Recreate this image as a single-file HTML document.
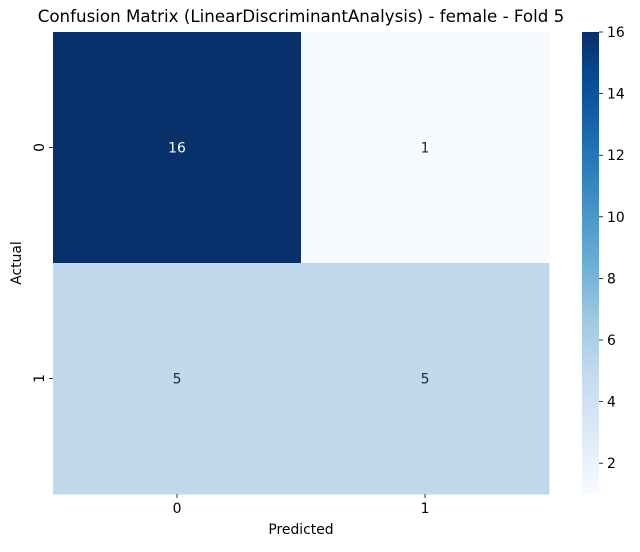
<!DOCTYPE html>
<html><head><meta charset="utf-8">
<style>
body{margin:0;background:#fff;}
svg text{font-family:"DejaVu Sans","Liberation Sans",sans-serif;}
</style></head>
<body>
<svg id="chart" width="640" height="547" xmlns="http://www.w3.org/2000/svg">
<defs>
<linearGradient id="blues" x1="0" y1="1" x2="0" y2="0">
<stop offset="0" stop-color="#f7fbff"/><stop offset="0.125" stop-color="#deebf7"/>
<stop offset="0.25" stop-color="#c6dbef"/><stop offset="0.375" stop-color="#9ecae1"/>
<stop offset="0.5" stop-color="#6baed6"/><stop offset="0.625" stop-color="#4292c6"/>
<stop offset="0.75" stop-color="#2171b5"/><stop offset="0.875" stop-color="#08519c"/>
<stop offset="1" stop-color="#08306b"/>
</linearGradient>
</defs>
<text x="301" y="22" text-anchor="middle" font-size="16.7" fill="#000">Confusion Matrix (LinearDiscriminantAnalysis) - female - Fold 5</text>
<g id="cells"></g>
<g id="axes"></g>
<rect x="582" y="32" width="17" height="462" fill="url(#blues)"/>
<g id="cbticks"></g>
<text x="301" y="534" text-anchor="middle" font-size="13.9">Predicted</text>
<text x="21" y="263" text-anchor="middle" font-size="13.9" transform="rotate(-90 21 263)">Actual</text>
</svg>
<script>
const labels = ["0","1"];
const matrix = [[16,1],[5,5]];
const cbTicks = [2,4,6,8,10,12,14,16];
const vmin = 1, vmax = 16;

const NS="http://www.w3.org/2000/svg";
const X0=53, X1=549, Y0=32, Y1=494, CBX=582, CBW=17;
const cw=(X1-X0)/labels.length, ch=(Y1-Y0)/labels.length;
const stops=["#f7fbff","#deebf7","#c6dbef","#9ecae1","#6baed6","#4292c6","#2171b5","#08519c","#08306b"];
function hex(c){return [1,3,5].map(i=>parseInt(c.substr(i,2),16));}
function color(v){
  let t=Math.max(0,Math.min(1,(v-vmin)/(vmax-vmin)))*(stops.length-1);
  let i=Math.min(Math.floor(t),stops.length-2), f=t-i;
  const a=hex(stops[i]), b=hex(stops[i+1]);
  const c=a.map((x,k)=>Math.round(x+(b[k]-x)*f));
  return {css:`rgb(${c[0]},${c[1]},${c[2]})`, lum:(0.299*c[0]+0.587*c[1]+0.114*c[2])/255};
}
function cbY(v){return Y1-(v-vmin)/(vmax-vmin)*(Y1-Y0);}
function mk(tag,attrs,parent){const e=document.createElementNS(NS,tag);for(const k in attrs)e.setAttribute(k,attrs[k]);parent.appendChild(e);return e;}

const cells=document.getElementById("cells");
matrix.forEach((row,r)=>row.forEach((v,c)=>{
  const col=color(v);
  const rect=mk("rect",{x:X0+c*cw,y:Y0+r*ch,width:cw+0.5,height:ch+0.5,fill:col.css},cells);
  
  
  const t=mk("text",{x:X0+(c+0.5)*cw,y:Y0+(r+0.5)*ch+5,"text-anchor":"middle","font-size":"13.9",fill:col.lum<0.5?"#ffffff":"#262626"},cells);
  t.textContent=v;
  
  
}));

const axes=document.getElementById("axes");
labels.forEach((l,i)=>{
  const x=X0+(i+0.5)*cw;
  mk("line",{x1:x,x2:x,y1:Y1,y2:Y1+4,stroke:"#000","stroke-width":0.8},axes);
  const t=mk("text",{x:x,y:Y1+19,"text-anchor":"middle","font-size":"13.9"},axes);
  t.textContent=l;
  
  
  const y=Y0+(i+0.5)*ch;
  mk("line",{x1:X0-4,x2:X0,y1:y,y2:y,stroke:"#000","stroke-width":0.8},axes);
  const ty=mk("text",{x:X0-9,y:y,"text-anchor":"middle","font-size":"13.9",transform:`rotate(-90 ${X0-9} ${y})`},axes);
  ty.textContent=l;
  
  
});

const cbt=document.getElementById("cbticks");
cbTicks.forEach(v=>{
  const y=cbY(v);
  mk("line",{x1:CBX+CBW,x2:CBX+CBW+4,y1:y,y2:y,stroke:"#000","stroke-width":0.8},cbt);
  const t=mk("text",{x:CBX+CBW+8,y:y+5,"font-size":"13.9"},cbt);
  t.textContent=v;
  
  
});
</script>
</body></html>
